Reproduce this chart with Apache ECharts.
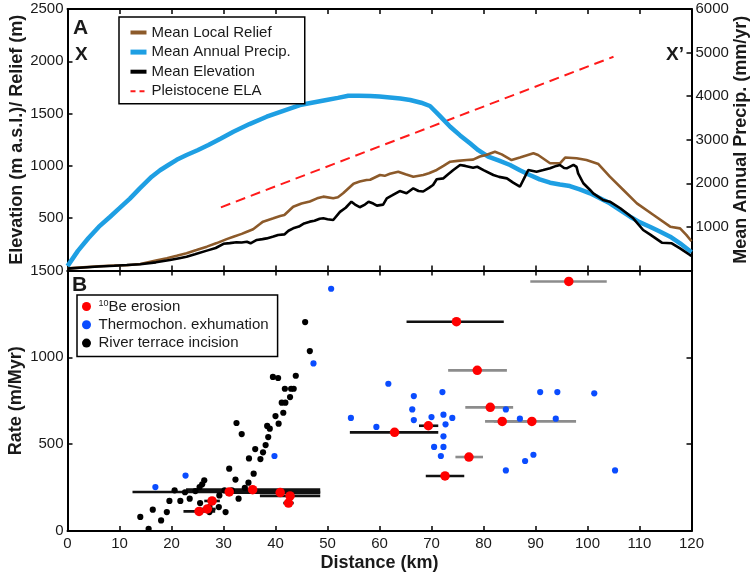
<!DOCTYPE html>
<html><head><meta charset="utf-8">
<script src="https://cdn.jsdelivr.net/npm/echarts@6/dist/echarts.min.js"></script>
<style>html,body{margin:0;padding:0;background:#fff}#c{width:751px;height:578px}</style>
</head><body><div id="c"></div>
<script>
// ---------- DATA ----------
// Panel A profiles: [distance km, value]
const reliefProfile = [[0,20],[3,30],[6,40],[9,48],[11.4,50],[14,62],[17,95],[19.1,117],[21,140],[22.9,164],[24.8,195],[26.8,228],[28.7,262],[30.6,300],[31.9,323],[33.5,350],[34.5,371],[35.7,395],[37.0,444],[37.6,467],[39.6,499],[40.9,521],[41.7,530],[43.4,610],[45,640],[46.6,660],[48,690],[49.2,706],[51.1,690],[52,700],[53.0,738],[55.0,830],[56.2,850],[57.5,865],[58.2,868],[60.1,913],[61,905],[62,925],[63.6,945],[65,920],[66.5,897],[68.4,913],[69.5,930],[71.0,961],[72.3,1000],[73.6,1040],[75,1048],[76.8,1056],[78,1060],[79.3,1090],[80.5,1105],[82.2,1136],[83.5,1110],[85.4,1056],[87,1080],[89.6,1120],[90.5,1104],[92.8,1025],[94.7,1025],[95.7,1080],[97.9,1073],[99.8,1056],[102.1,1018],[104.3,897],[106.9,770],[109.5,642],[112.7,531],[115.9,419],[117.8,403],[119,340],[120,280]];
const elevationProfile = [[0,18],[3,28],[6,38],[9,45],[11.4,52],[14,60],[17,78],[19.7,100],[21.5,118],[22.9,132],[24.5,155],[26.8,190],[28.5,215],[30.0,255],[31.2,262],[32.5,270],[33.5,268],[34.5,275],[35.2,260],[36.4,292],[37.5,300],[38.3,307],[39.6,325],[40.5,340],[41.7,345],[42.5,380],[43.4,403],[44.5,420],[45.5,450],[46.6,467],[47.5,475],[48.5,495],[49.2,499],[50,490],[51.1,483],[52.4,560],[53.5,600],[54.6,658],[55.3,630],[56.2,605],[57.2,630],[57.9,658],[58.8,640],[59.5,620],[60.7,630],[61.4,690],[62.5,720],[63.9,760],[65.2,738],[66.5,786],[67.5,760],[68.4,755],[69.5,790],[70.3,817],[71.0,872],[72.3,881],[73.2,920],[74.2,961],[75.5,1009],[76.5,1000],[78.0,983],[78.8,992],[80.0,960],[81.9,913],[83,895],[84.5,881],[85.7,840],[87.0,801],[88.0,900],[88.6,961],[90.2,945],[91.5,960],[92.8,977],[94.0,1000],[94.7,1009],[95.5,980],[96.0,977],[97.3,1009],[97.9,990],[98.2,929],[99.2,834],[100.5,770],[101.1,738],[103.0,674],[104.3,658],[106.3,595],[108.8,499],[110.7,387],[112.0,345],[114.3,266],[116.2,260],[117.8,212],[119.7,148],[120,140]];
const precipProfile = [[0,100],[2,450],[4,739],[6,1000],[8.2,1234],[10,1430],[12,1650],[13.9,1885],[16.2,2152],[17.8,2300],[19.4,2420],[21,2540],[22.9,2650],[25,2760],[27.1,2879],[29.5,3030],[31.9,3184],[35,3360],[38.3,3528],[41.5,3665],[44.7,3797],[47.5,3860],[49.8,3911],[52,3960],[54,4010],[56,4012],[58.2,4003],[60,3990],[62,3970],[64,3945],[65.9,3911],[68,3850],[69.7,3774],[71.5,3560],[73.6,3299],[75.5,3100],[77.4,2918],[79,2760],[80.9,2611],[83,2520],[85.1,2420],[87,2300],[88.9,2191],[90.8,2090],[92.8,2014],[94.7,1975],[96.6,1938],[98.5,1860],[100.5,1771],[102.4,1660],[104.3,1542],[106.2,1390],[108.2,1234],[110,1110],[112.0,1005],[114,890],[115.9,775],[117.8,624],[120,420]];
const elaLine = [[29.5,604],[105,2044]];

// Panel B: [distance km, rate m/Myr]
const terraceIncision = [[14.0,81],[15.6,13],[16.4,123],[18.0,61],[19.1,109],[19.6,173],[20.6,234],[21.7,173],[22.6,223],[23.5,186],[24.6,230],[25.4,253],[25.5,161],[25.9,269],[26.3,292],[27.3,138],[27.3,109],[29.1,138],[29.2,205],[30.2,234],[30.4,109],[31.1,359],[31.6,234],[32.3,296],[32.5,622],[32.9,186],[33.5,558],[34.1,249],[34.8,278],[34.9,418],[35.8,330],[36.1,472],[37.1,414],[37.6,453],[38.1,495],[38.4,605],[38.6,541],[38.9,589],[39.5,887],[40.0,662],[40.6,618],[40.5,881],[41.2,739],[41.5,681],[41.8,819],[41.9,739],[42.8,771],[43.0,819],[43.5,819],[43.9,894],[45.7,1203],[46.6,1036]];
const thermoExhumation = [[16.9,253],[22.7,319],[39.8,432],[47.3,965],[50.7,1395],[54.5,651],[59.4,599],[61.7,848],[66.6,777],[66.3,700],[66.6,639],[70.0,656],[72.1,800],[72.3,670],[74.0,651],[72.7,614],[72.3,545],[70.5,484],[72.3,484],[71.8,432],[84.3,700],[87.0,647],[90.9,800],[94.2,800],[93.9,647],[101.3,793],[89.6,439],[88.0,403],[84.3,349],[105.3,349]];
// 10Be erosion: [distance, rate, distance min, distance max]
const beErosionSetA = [[25.3,113,22.3,28.4],[26.9,127,25.5,28.5],[27.8,173,26.3,29.3],[31.1,225,12.5,48.6],[35.6,238,22.8,48.6],[40.9,221,30.3,48.6],[42.8,202,37.0,48.6],[42.5,161,41.5,43.5],[74.8,1205,65.2,83.9],[69.4,606,67.6,71.3],[62.9,568,54.3,71.3],[72.6,317,68.9,76.3]];
const beErosionSetB = [[96.4,1437,89.0,103.7],[78.8,925,73.2,84.5],[81.3,712,76.5,85.7],[83.6,631,80.3,90.0],[89.3,631,82.0,97.8],[77.2,426,74.6,79.9]];

const distTicks = [0,10,20,30,40,50,60,70,80,90,100,110,120];

// ---------- CHART ----------
const FONT = 'Liberation Sans, Arial, Helvetica, sans-serif';
const TXT = '#1a1a1a';
const chart = echarts.init(document.getElementById('c'), null, {renderer:'canvas'});

const axLine = {show:true, onZero:false, lineStyle:{color:'#000', width:2}};
const tick = {show:true, inside:true, length:5, lineStyle:{color:'#000', width:1.5}};
function plain(v){ return String(v); }
function hideZero(v){ return v === 0 ? '' : String(v); }
const lbl = {show:true, color:TXT, fontSize:15, fontFamily:FONT, margin:4, formatter:plain};
const nameStyle = {fontSize:18, fontWeight:'bold', color:TXT, fontFamily:FONT};

function xAx(grid, pos, showLabel, name){
  return {type:'value', gridIndex:grid, position:pos, min:distTicks[0], max:distTicks[distTicks.length-1], interval:10,
    axisLine:axLine, axisTick:tick, splitLine:{show:false},
    axisLabel: showLabel ? Object.assign({}, lbl, {margin:5}) : {show:false},
    name: name || '', nameLocation:'middle', nameGap:23, nameMoveOverlap:false, nameTextStyle:nameStyle};
}

function errRender(color){
  return function(params, api){
    const y = api.value(1);
    const p1 = api.coord([api.value(2), y]);
    const p2 = api.coord([api.value(3), y]);
    return {type:'line', shape:{x1:p1[0], y1:p1[1], x2:p2[0], y2:p2[1]},
      style:{stroke:color, lineWidth:2.6}};
  };
}

const gridBase = {containLabel:false, outerBoundsMode:'none'};
const option = {
  animation:false,
  backgroundColor:'#fff',
  grid:[
    Object.assign({left:67.5, right:59.5, top:9, height:261.5}, gridBase),
    Object.assign({left:67.5, right:59.5, top:270.5, height:260.5}, gridBase)
  ],
  xAxis:[ xAx(0,'bottom',false), xAx(0,'top',false), xAx(1,'bottom',true,'Distance (km)'), xAx(1,'top',false) ],
  yAxis:[
    {type:'value', gridIndex:0, position:'left', min:0, max:2500, interval:500, axisLine:axLine, axisTick:tick, splitLine:{show:false},
     axisLabel:Object.assign({}, lbl, {formatter:hideZero}), name:'Elevation (m a.s.l.)/ Relief (m)', nameLocation:'middle', nameRotate:90, nameGap:41, nameMoveOverlap:false, nameTextStyle:nameStyle},
    {type:'value', gridIndex:0, position:'right', min:0, max:6000, interval:1000, axisLine:axLine, axisTick:tick, splitLine:{show:false},
     axisLabel:Object.assign({}, lbl, {formatter:hideZero}), name:'Mean Annual Precip. (mm/yr)', nameLocation:'middle', nameRotate:90, nameGap:41, nameMoveOverlap:false, nameTextStyle:nameStyle},
    {type:'value', gridIndex:1, position:'left', min:0, max:1500, interval:500, axisLine:axLine, axisTick:tick, splitLine:{show:false},
     axisLabel:lbl, name:'Rate (m/Myr)', nameLocation:'middle', nameRotate:90, nameGap:42, nameMoveOverlap:false, nameTextStyle:nameStyle},
    {type:'value', gridIndex:1, position:'right', min:0, max:1500, interval:500, axisLine:axLine, axisTick:tick, splitLine:{show:false},
     axisLabel:{show:false}}
  ],
  legend:[
    {data:[
       {name:'Mean Local Relief', lineStyle:{width:4}},
       {name:'Mean Annual Precip.', lineStyle:{width:5}},
       {name:'Mean Elevation', lineStyle:{width:4}},
       {name:'Pleistocene ELA', lineStyle:{width:2, type:[5,4]}}
     ],
     orient:'vertical', left:119, top:17, itemWidth:16, itemHeight:14, itemGap:4.6,
     padding:[8,14,5,9], borderColor:'#000', borderWidth:1.5, borderRadius:0, backgroundColor:'#fff',
     itemStyle:{opacity:0, borderWidth:0},
     textStyle:{fontSize:15, color:TXT, fontFamily:FONT, lineHeight:15}, selectedMode:false, z:10},
    {data:['10Be erosion','Thermochon. exhumation','River terrace incision'],
     orient:'vertical', left:77, top:295, itemWidth:14, itemHeight:9, itemGap:3.3,
     padding:[4,9,6,5], borderColor:'#000', borderWidth:1.5, borderRadius:0, backgroundColor:'#fff',
     formatter: function(n){ return n === '10Be erosion' ? '{sup|10}{n|Be erosion}' : '{n|' + n + '}'; },
     textStyle:{fontSize:15, color:TXT, fontFamily:FONT, lineHeight:15,
       rich:{n:{fontSize:15, color:TXT, fontFamily:FONT, lineHeight:15}, sup:{fontSize:9, color:TXT, fontFamily:FONT, verticalAlign:'top', lineHeight:15, padding:[0,0,5,0]}}},
     selectedMode:false, z:10}
  ],
  series:[
    {name:'Pleistocene ELA', type:'line', xAxisIndex:0, yAxisIndex:0, data:elaLine, symbol:'none', color:'#ff1a1a',
     lineStyle:{color:'#ff1a1a', width:2, type:[10,6]}, z:2},
    {name:'Mean Annual Precip.', type:'line', xAxisIndex:0, yAxisIndex:1, data:precipProfile, symbol:'none', color:'#1e9fe3',
     lineStyle:{color:'#1e9fe3', width:4.5}, z:3},
    {name:'Mean Local Relief', type:'line', xAxisIndex:0, yAxisIndex:0, data:reliefProfile, symbol:'none', color:'#8c5a2a',
     lineStyle:{color:'#8c5a2a', width:2.6}, z:4},
    {name:'Mean Elevation', type:'line', xAxisIndex:0, yAxisIndex:0, data:elevationProfile, symbol:'none', color:'#000',
     lineStyle:{color:'#000', width:2.6}, z:5},

    {name:'errA', type:'custom', xAxisIndex:2, yAxisIndex:2, data:beErosionSetA, renderItem:errRender('#111'),
     encode:{x:[2,3], y:1}, z:2, silent:true},
    {name:'errB', type:'custom', xAxisIndex:2, yAxisIndex:2, data:beErosionSetB, renderItem:errRender('#8c8c8c'),
     encode:{x:[2,3], y:1}, z:2, silent:true},
    {name:'River terrace incision', type:'scatter', xAxisIndex:2, yAxisIndex:2, data:terraceIncision, color:'#000',
     symbol:'circle', symbolSize:6.2, itemStyle:{color:'#000', opacity:1}, z:3},
    {name:'Thermochon. exhumation', type:'scatter', xAxisIndex:2, yAxisIndex:2, data:thermoExhumation, color:'#0a4cff',
     symbol:'circle', symbolSize:6.2, itemStyle:{color:'#0a4cff', opacity:1}, z:4},
    {name:'10Be erosion', type:'scatter', xAxisIndex:2, yAxisIndex:2, color:'#ff0000',
     data:beErosionSetA.map(d => [d[0], d[1]]).concat(beErosionSetB.map(d => [d[0], d[1]])),
     symbol:'circle', symbolSize:9.5, itemStyle:{color:'#ff0000', opacity:1}, z:5}
  ],
  graphic:[
    {type:'text', left:73, top:18, z:20, style:{text:'A', font:'bold 21px ' + FONT, fill:TXT}},
    {type:'text', left:75, top:45, z:20, style:{text:'X', font:'bold 19px ' + FONT, fill:TXT}},
    {type:'text', left:666, top:45, z:20, style:{text:'X\u2019', font:'bold 19px ' + FONT, fill:TXT}},
    {type:'text', left:72, top:275, z:20, style:{text:'B', font:'bold 21px ' + FONT, fill:TXT}}
  ]
};
chart.setOption(option);
</script>
</body></html>
